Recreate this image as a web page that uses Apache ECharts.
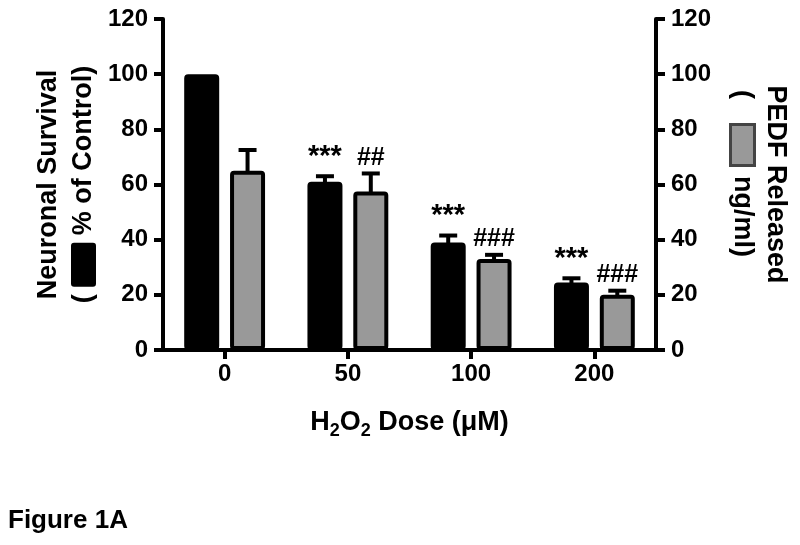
<!DOCTYPE html>
<html>
<head>
<meta charset="utf-8">
<script src="https://cdn.jsdelivr.net/npm/echarts@6/dist/echarts.min.js"></script>
<style>
  html, body { margin: 0; padding: 0; background: #fff; }
  #chart { width: 800px; height: 545px; }
</style>
</head>
<body>
<div id="chart"></div>
<script>
// doses on the x axis
const doses = ['0', '50', '100', '200'];
const yTicks = [0, 20, 40, 60, 80, 100, 120];

// neuronal survival (% of control), black bars
const survival = [100, 61, 39, 24.5];
const survivalErr = [0, 2, 2.5, 1.5];
const survivalMarks = ['', '***', '***', '***'];

// PEDF released (ng/ml), grey bars
const pedf = [65, 57.5, 33, 20];
const pedfErr = [7.5, 6.5, 1.5, 1.5];
const pedfMarks = ['', '##', '###', '###'];

const FONT = '"Liberation Sans", Arial, sans-serif';
const BAR_W = 35;
const BAR_GAP = 0.31;
// distance from category centre to each bar's centre
const half = BAR_W * (1 + BAR_GAP) / 2;

function errorSeries(means, errs, marks, side, markSize, markLift) {
  return {
    type: 'custom',
    xAxisIndex: 0,
    yAxisIndex: 0,
    z: 1,
    silent: true,
    data: means.map((m, i) => [i, m, errs[i]]),
    renderItem(params, api) {
      const i = params.dataIndex;
      const base = api.coord([api.value(0), api.value(1)]);
      const top = api.coord([api.value(0), api.value(1) + api.value(2)]);
      const x = base[0] + side * half;
      const children = [];
      if (api.value(2) > 0) {
        children.push({
          type: 'line',
          shape: { x1: x, y1: base[1] + 4, x2: x, y2: top[1] },
          style: { stroke: '#000', lineWidth: 4 }
        });
        children.push({
          type: 'line',
          shape: { x1: x - 9, y1: top[1], x2: x + 9, y2: top[1] },
          style: { stroke: '#000', lineWidth: 4 }
        });
      }
      if (marks[i]) {
        children.push({
          type: 'text',
          z2: 10,
          style: {
            x: x,
            y: top[1] - markLift,
            text: marks[i],
            fill: '#000',
            font: 'bold ' + markSize + 'px ' + FONT,
            align: 'center',
            verticalAlign: 'bottom'
          }
        });
      }
      return { type: 'group', children: children };
    }
  };
}

const axisLine = { show: true, lineStyle: { color: '#000', width: 4 } };
const axisTick = { show: true, length: 9, lineStyle: { color: '#000', width: 4 } };
const tickLabel = { color: '#000', fontSize: 24, fontWeight: 'bold', fontFamily: FONT };

const chart = echarts.init(document.getElementById('chart'));
chart.setOption({
  animation: false,
  backgroundColor: '#fff',
  title: {
    text: 'Figure 1A',
    left: 8,
    top: 508,
    padding: 0,
    textStyle: { color: '#000', fontSize: 26, fontWeight: 'bold', fontFamily: FONT }
  },
  grid: { left: 163, right: 139, top: 19, bottom: 195 },
  xAxis: {
    type: 'category',
    data: doses,
    axisLine: axisLine,
    axisTick: Object.assign({ alignWithLabel: true }, axisTick),
    axisLabel: Object.assign({ margin: 12 }, tickLabel),
    name: 'H{s|2}O{s|2} Dose (μM)',
    nameLocation: 'middle',
    nameGap: 56,
    nameTextStyle: {
      color: '#000', fontSize: 27, fontWeight: 'bold', fontFamily: FONT,
      rich: {
        s: { fontSize: 18, fontWeight: 'bold', fontFamily: FONT, color: '#000', padding: [16, 0, 0, 0] }
      }
    }
  },
  yAxis: [
    {
      type: 'value',
      min: 0,
      max: 120,
      interval: 20,
      position: 'left',
      axisLine: axisLine,
      axisTick: axisTick,
      splitLine: { show: false },
      axisLabel: Object.assign({ margin: 15 }, tickLabel),
      name: 'Neuronal Survival\n( {blk| } % of Control)',
      nameLocation: 'middle',
      nameRotate: 90,
      nameGap: 62,
      nameMoveOverlap: false,
      nameTextStyle: {
        color: '#000', fontSize: 27, fontWeight: 'bold', fontFamily: FONT,
        lineHeight: 35, align: 'center',
        rich: {
          blk: { width: 44, height: 25, backgroundColor: '#000', borderRadius: 3 }
        }
      }
    },
    {
      type: 'value',
      min: 0,
      max: 120,
      interval: 20,
      position: 'right',
      axisLine: axisLine,
      axisTick: axisTick,
      splitLine: { show: false },
      axisLabel: Object.assign({ margin: 15 }, tickLabel),
      name: 'PEDF Released\n({sp| }{gry| }{sp2| }ng/ml){pad| }',
      nameLocation: 'middle',
      nameRotate: -90,
      nameGap: 70,
      nameMoveOverlap: false,
      nameTextStyle: {
        color: '#000', fontSize: 27, fontWeight: 'bold', fontFamily: FONT,
        lineHeight: 33, align: 'center',
        rich: {
          gry: { width: 38, height: 21, backgroundColor: '#999', borderColor: '#444', borderWidth: 3 },
          sp: { width: 27 },
          sp2: { width: 12 },
          pad: { width: 22 }
        }
      }
    }
  ],
  series: [
    {
      name: 'Neuronal Survival',
      type: 'bar',
      yAxisIndex: 0,
      z: 2,
      barWidth: BAR_W,
      barGap: (BAR_GAP * 100) + '%',
      data: survival,
      itemStyle: { color: '#000', borderColor: '#000', borderWidth: 4, borderRadius: 2 }
    },
    {
      name: 'PEDF Released',
      type: 'bar',
      yAxisIndex: 1,
      z: 2,
      barWidth: BAR_W,
      barGap: (BAR_GAP * 100) + '%',
      data: pedf,
      itemStyle: { color: '#999', borderColor: '#000', borderWidth: 4, borderRadius: 2 }
    },
    errorSeries(survival, survivalErr, survivalMarks, -1, 29, 5),
    errorSeries(pedf, pedfErr, pedfMarks, 1, 25, 3)
  ]
});
</script>
</body>
</html>
